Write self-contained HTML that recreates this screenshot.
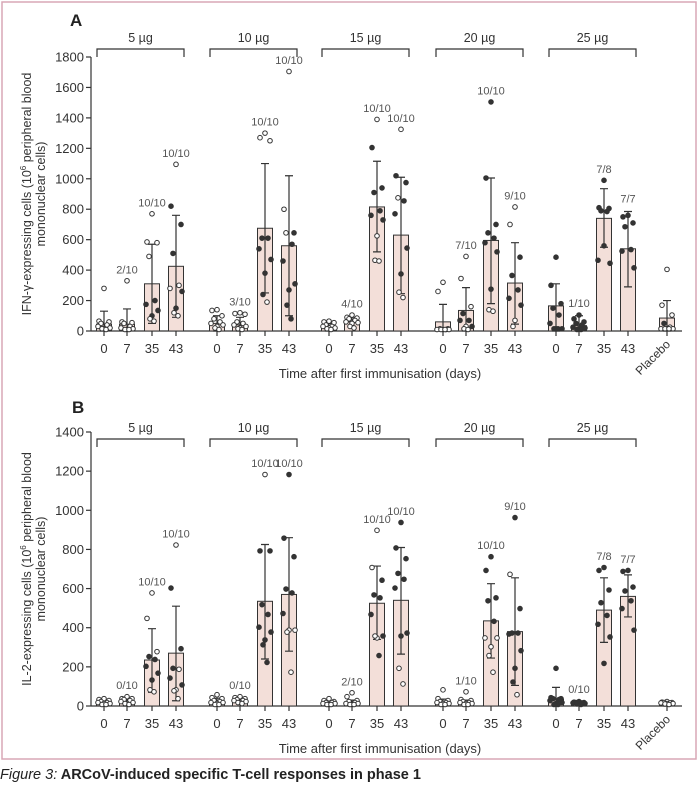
<!DOCTYPE html>
<html><head><meta charset="utf-8">
<style>
body{margin:0;background:#fff;}
svg{display:block;font-family:"Liberation Sans",sans-serif;}
</style></head>
<body>
<svg id="chart" width="700" height="791" viewBox="0 0 700 791">
<rect x="2" y="2" width="694" height="757" fill="none" stroke="#d8a7b6" stroke-width="1.5"/>
<text x="0" y="779" font-size="14.5" fill="#222" font-weight="bold"><tspan font-style="italic" font-weight="normal">Figure 3:</tspan> ARCoV-induced specific T-cell responses in phase 1</text>
</svg>
<script>
const groups = ["5 µg","10 µg","15 µg","20 µg","25 µg"];
const days = ["0","7","35","43"];
// Panel A: IFN-gamma; each entry: [mean, errHigh, errLow]
const ifnStats = [
 [45,130,0],[45,145,0],[310,570,50],[425,760,90],
 [50,100,0],[40,90,0],[675,1100,250],[560,1020,100],
 [25,50,0],[60,90,30],[815,1115,520],[630,1010,245],
 [60,175,0],[135,285,0],[595,1005,180],[315,580,45],
 [165,310,0],[35,100,0],[740,935,550],[540,785,290],
 [85,200,0]];
const ifnPoints = [
 [270,55,50,40,30,20,10,5,5,0],[320,50,45,40,20,10,5,0,0,0],[760,575,570,480,190,165,125,90,70,55],[1085,810,690,500,290,270,250,140,110,90],
 [130,125,90,70,50,40,30,20,10,0],[110,105,100,50,40,30,20,10,5,0],[1290,1260,1240,600,600,530,460,370,230,180],[1695,790,635,635,560,450,300,260,160,70],
 [55,50,45,30,20,20,10,10,5,0],[95,80,75,70,60,50,45,40,20,10],[1380,1195,930,900,780,750,720,615,455,450],[1315,1010,965,865,845,760,535,365,245,210],
 [310,250,5,5,0,0,0,0,0,0],[480,335,150,105,60,60,20,20,5,0],[1495,995,690,635,600,570,510,265,130,120],[805,690,475,355,260,205,160,60,20],
 [475,290,170,140,95,40,5,5,5,5],[95,70,50,40,30,15,10,5,0,0],[980,800,795,780,775,455,435,550],[750,740,700,675,525,515,405],
 [395,160,95,40,15,5,5,5,5,5]];
const ifnFill = ["oooooooooo","oooooooooo","ooooffffoo","offfooffoo",
 "oooooooooo","oooooooooo","oooffffffo","oofoffffff",
 "oooooooooo","oooooooooo","offffffooo","offoffffoo",
 "oooooooooo","oooffffooo","ffffffffoo","oofffffoo",
 "ffffffffff","ffffffffff","ffffffff","fffffff",
 "ooofoooooo"];
const ifnLabels = ["","2/10","10/10","10/10","","3/10","10/10","10/10","","4/10","10/10","10/10","","7/10","10/10","9/10","","1/10","7/8","7/7",""];
// Panel B: IL-2
const il2Stats = [
 [15,25,0],[20,35,0],[235,395,70],[270,510,27],
 [20,40,0],[25,35,10],[535,825,240],[570,860,280],
 [10,20,0],[15,30,0],[525,715,340],[540,810,265],
 [20,35,0],[15,30,0],[435,625,245],[380,655,105],
 [35,95,0],[15,20,5],[490,655,325],[560,670,455],
 [8,12,0]];
const il2Points = [
 [30,25,20,15,10,10,5,5,0,0],[40,30,30,25,20,15,10,5,5,0],[570,440,270,245,230,195,160,125,75,65],[815,595,285,185,180,135,100,75,70,30],
 [50,35,30,20,15,10,10,5,0,0],[40,35,30,25,20,20,15,10,10,5],[1175,785,785,510,460,395,370,330,305,215],[1175,850,755,590,570,465,380,380,370,165],
 [30,20,15,10,10,5,5,0,0,0],[60,40,20,15,10,5,5,0,0,0],[890,700,635,560,545,460,350,340,350,250],[930,800,745,670,640,595,365,350,185,105],
 [75,30,20,15,10,10,5,5,0,0],[65,25,20,15,10,10,5,5,0,0],[755,685,545,530,425,340,340,295,250,165],[955,665,490,365,365,360,275,185,115,50],
 [185,35,30,30,25,20,10,5,0,0],[15,12,10,10,8,8,5,5,3,0],[700,685,585,520,455,410,345,210],[685,680,600,580,530,490,380],
 [15,12,10,10,8,8,5,5,3,0]];
const il2Fill = ["oooooooooo","oooooooooo","ooofffffoo","offfoffooo",
 "oooooooooo","oooooooooo","offfffffff","ffffffoooo",
 "oooooooooo","oooooooooo","oofffffoof","ffffffffoo",
 "oooooooooo","oooooooooo","fffffooooo","fofffffffo",
 "ffffffffff","ffffffffff","ffffffff","fffffff",
 "oooooooooo"];
const il2Labels = ["","0/10","10/10","10/10","","0/10","10/10","10/10","","2/10","10/10","10/10","","1/10","10/10","9/10","","0/10","7/8","7/7",""];
const ifnTicks = [0,200,400,600,800,1000,1200,1400,1600,1800];
const il2Ticks = [0,200,400,600,800,1000,1200,1400];

const NS="http://www.w3.org/2000/svg";
const svg=document.getElementById('chart');
function mk(tag,attrs,parent){const e=document.createElementNS(NS,tag);for(const k in attrs)e.setAttribute(k,attrs[k]);(parent||svg).appendChild(e);return e;}
const groupX=[104,217,329,443,556], dayOff=[0,23,48,72], placeboX=667;
function barX(i){return i===20?placeboX:groupX[Math.floor(i/4)]+dayOff[i%4];}
const jit=[0,-5,5,-3,3,-6,6,0,-2,2];

function panel(cfg){
  const g=mk('g',{});
  
  
  const y=v=>cfg.y0-(v/cfg.max)*(cfg.y0-cfg.yTop);
  const letter=mk('text',{x:cfg.letterX,y:cfg.letterY,'font-size':17,'font-weight':'bold',fill:'#222'},g);letter.textContent=cfg.letter;
  
  
  const ya=mk('line',{x1:91,x2:91,y1:cfg.yTop,y2:cfg.y0,stroke:'#333','stroke-width':1.2},g);
  
  
  cfg.ticks.forEach(t=>{
    mk('line',{x1:86,x2:91,y1:y(t),y2:y(t),stroke:'#333','stroke-width':1.2},g);
    const tl=mk('text',{x:84,y:y(t)+4.5,'font-size':13,'text-anchor':'end',fill:'#333'},g);tl.textContent=t;
    
    
  });
  const yt=mk('text',{transform:`translate(31,${(cfg.y0+cfg.yTop)/2}) rotate(-90)`,'font-size':12.5,'text-anchor':'middle',fill:'#333'},g);
  
  
  const t1=mk('tspan',{x:0,y:0},yt);t1.innerHTML=cfg.yTitle+' (10<tspan dy="-5" font-size="8">6</tspan><tspan dy="5"> peripheral blood</tspan>';
  const t2=mk('tspan',{x:0,y:14},yt);t2.textContent='mononuclear cells)';
  const xa=mk('line',{x1:91,x2:682,y1:cfg.y0,y2:cfg.y0,stroke:'#333','stroke-width':1.2},g);
  
  
  const xt=mk('text',{x:380,y:cfg.y0+47,'font-size':13,'text-anchor':'middle',fill:'#333'},g);xt.textContent='Time after first immunisation (days)';
  
  
  groups.forEach((gn,k)=>{
    const x1=groupX[k]-7,x2=groupX[k]+dayOff[3]+8;
    const br=mk('path',{d:`M${x1},${cfg.brY+8}V${cfg.brY}H${x2}V${cfg.brY+8}`,fill:'none',stroke:'#333','stroke-width':1.2},g);
    
    
    const bl=mk('text',{x:(x1+x2)/2,y:cfg.brY-7,'font-size':12.5,'text-anchor':'middle',fill:'#333'},g);bl.textContent=gn;
    
    
  });
  for(let i=0;i<21;i++){
    const cx=barX(i);const [m,eh,el]=cfg.stats[i];
    mk('line',{x1:cx,x2:cx,y1:cfg.y0,y2:cfg.y0+5,stroke:'#333','stroke-width':1.2},g);
    if(i<20){const xl=mk('text',{x:cx,y:cfg.y0+22,'font-size':13,'text-anchor':'middle',fill:'#333'},g);xl.textContent=days[i%4];
      
      }
    else{const xl=mk('text',{transform:`translate(${cx+4},${cfg.y0+14}) rotate(-45)`,'font-size':12,'text-anchor':'end',fill:'#333'},g);xl.textContent='Placebo';
      
      }
    const b=mk('rect',{x:cx-7.5,y:y(m),width:15,height:cfg.y0-y(m),fill:'#f3dfd9',stroke:'#333','stroke-width':1},g);
    
    
    const eb=mk('path',{d:`M${cx},${y(el)}V${y(eh)}M${cx-4},${y(eh)}H${cx+4}M${cx-4},${y(el)}H${cx+4}`,stroke:'#333','stroke-width':1.2,fill:'none'},g);
    
    
    let top=eh;
    cfg.points[i].forEach((v,j)=>{
      const f=cfg.fill[i][j]==='f';
      const p=mk('circle',{cx:cx+jit[j%10],cy:y(v)-1.5,r:2.3,fill:f?'#333':'#fff',stroke:'#333','stroke-width':1},g);
      
      
      top=Math.max(top,v);
    });
    if(cfg.labels[i]){const l=mk('text',{x:cx,y:y(top)-9,'font-size':11,'text-anchor':'middle',fill:'#555'},g);l.textContent=cfg.labels[i];
      
      }
  }
}
panel({name:'panel-a-ifn',letter:'A',letterX:70,letterY:26,y0:331,yTop:57,max:1800,ticks:ifnTicks,stats:ifnStats,points:ifnPoints,fill:ifnFill,labels:ifnLabels,brY:49,yTitle:'IFN-γ-expressing cells'});
panel({name:'panel-b-il2',letter:'B',letterX:72,letterY:413,y0:706,yTop:432,max:1400,ticks:il2Ticks,stats:il2Stats,points:il2Points,fill:il2Fill,labels:il2Labels,brY:439,yTitle:'IL-2-expressing cells'});
</script>
</body></html>
